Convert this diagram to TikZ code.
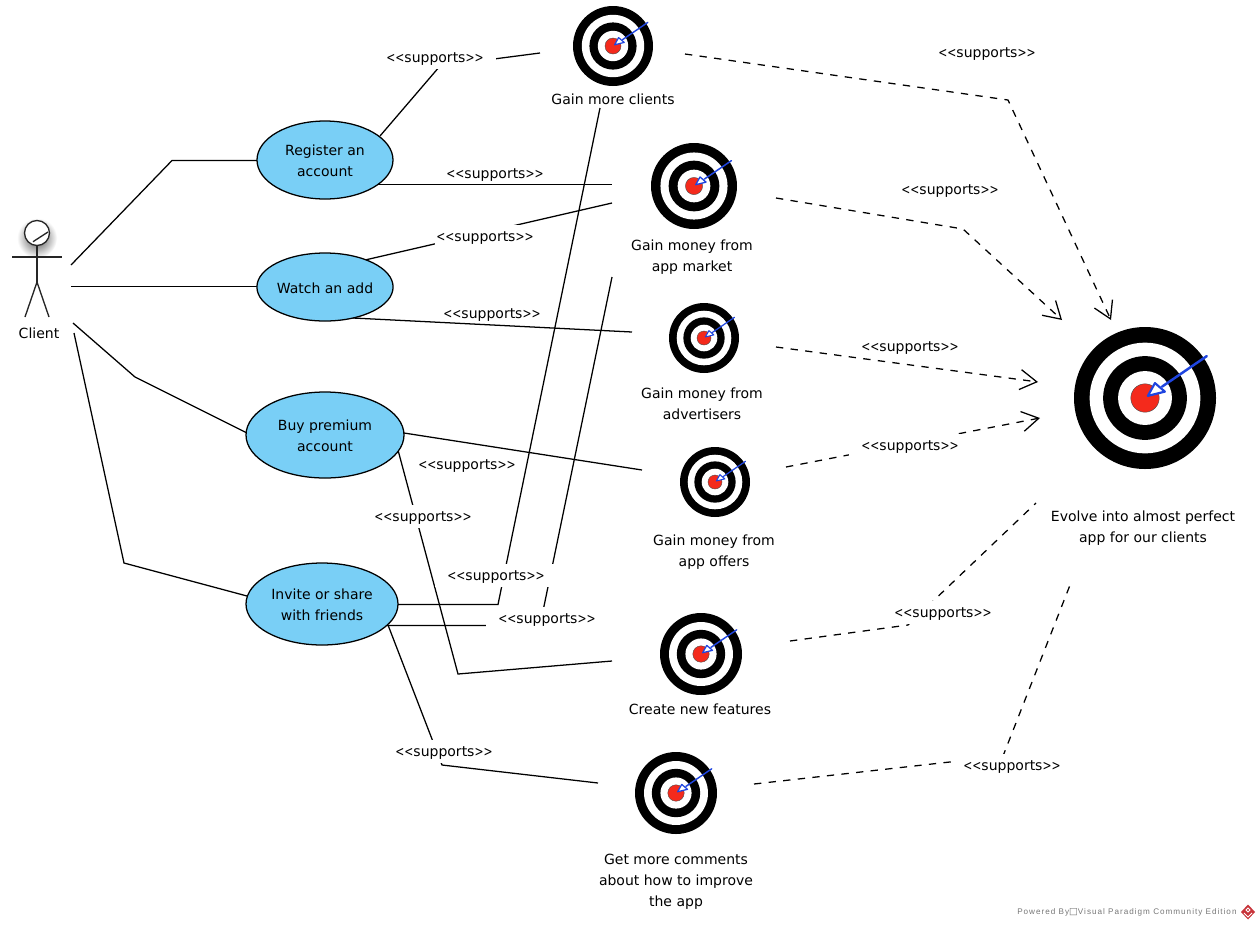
\documentclass[tikz,border=0pt]{standalone}
\usepackage{graphicx}
\usepackage{fontspec}
\setmainfont{DejaVu Sans}
\newfontfamily\footfont[LetterSpace=12.3]{Liberation Sans}
\newfontfamily\symfont{DejaVu Sans}
\usetikzlibrary{arrows.meta,shapes.geometric,calc}
\definecolor{ucblue}{HTML}{79CFF6}
\definecolor{tred}{HTML}{F42A1C}
\definecolor{tblue}{HTML}{1F45E0}
\definecolor{footgray}{HTML}{777777}
\definecolor{logored}{HTML}{C8343A}
\newcommand{\pxu}{0.75pt}
\newcommand{\stereo}{\raisebox{-1.5pt}[8pt][2.2pt]{\scalebox{.77}[1]{<{}<}supports\scalebox{.77}[1]{>{}>}}}
\newcommand{\dn}[1]{\raisebox{-.75pt}[8pt][0pt]{#1}}
\tikzset{
  x=0.75pt,y=-0.75pt,
  every node/.style={font=\fontsize{10.5}{15.75}\selectfont,align=center,inner sep=0pt},
  assoc/.style={draw=black,line width=.95pt},
  depline/.style={draw=black,line width=.95pt,dash pattern=on 5.5pt off 5.5pt},
  dep/.style={depline,-{Straight Barb[length=12.5pt,width=15pt,line width=.95pt]}},
  usecase/.style={ellipse,draw=black,line width=.95pt,fill=ucblue},
  masked/.style={fill=white,minimum width=122*\pxu,minimum height=23*\pxu},
  stereotype/.style={},
  plaintext/.style={yshift=-.75pt},
  actorline/.style={draw=black!85,line width=1pt},
}
\newcommand{\tgt}[4]{%
  \node[circle,minimum size=2*#4*\pxu] (#1) at (#2,#3) {};
  \begin{scope}[shift={(#2,#3)},x=#4*0.75pt,y=-#4*0.75pt]
    \fill[black] (0,0) circle (1);
    \fill[white] (0,0) circle (.78);
    \fill[black] (0,0) circle (.59);
    \fill[white] (0,0) circle (.38);
    \filldraw[fill=tred,draw=black!70,line width=.3pt] (0,0) circle (.2);
    \draw[tblue,line width=#4*.035*\pxu,line cap=round] (.87,-.59) -- (.24,-.16);
    \filldraw[fill=white,draw=tblue,line width=#4*.03*\pxu,line join=round] (.04,-.03) -- (.14,-.21) -- (.28,-.09) -- cycle;
  \end{scope}}
\begin{document}
\begin{tikzpicture}
\useasboundingbox[fill=white] (0,0) rectangle (1260,929);

% connector end coordinates
\coordinate (aA) at (71,265);   \coordinate (aB) at (172,160.5);  \coordinate (aC) at (257,160.5);
\coordinate (bA) at (71,286.5);   \coordinate (bC) at (258,286.5);
\coordinate (cA) at (73,323);   \coordinate (cB) at (135,377);  \coordinate (cC) at (247,433);
\coordinate (dA) at (74,333);   \coordinate (dB) at (124,563);  \coordinate (dC) at (247,596);
\coordinate (e1) at (380,136);  \coordinate (e2) at (440,66);   \coordinate (e3) at (540,53);
\coordinate (f1) at (378,184.5);  \coordinate (f2) at (612,184.5);
\coordinate (g1) at (365,260);  \coordinate (g2) at (612,203);
\coordinate (h1) at (353,318);  \coordinate (h2) at (632,332);
\coordinate (i1) at (404,433);  \coordinate (i2) at (642,470);
\coordinate (j1) at (398,450);  \coordinate (j2) at (458,674);  \coordinate (j3) at (612,661);
\coordinate (k1) at (397,604.5);  \coordinate (k2) at (498,604.5);  \coordinate (k3) at (600,108);
\coordinate (l1) at (387,625.5);  \coordinate (l2) at (540,625.5);  \coordinate (l3) at (612,277);
\coordinate (m1) at (388,625);  \coordinate (m2) at (442,765);  \coordinate (m3) at (598,783);
\coordinate (n1) at (685,54);   \coordinate (n2) at (1008,100); \coordinate (n3) at (1111,320);
\coordinate (o1) at (776,198);  \coordinate (o2) at (963,229);  \coordinate (o3) at (1062,320);
\coordinate (p1) at (776,347);  \coordinate (p3) at (1038,382);
\coordinate (q1) at (786,467);  \coordinate (q3) at (1040,418);
\coordinate (r1) at (790,641);  \coordinate (r2) at (908,625);  \coordinate (r3) at (1036,503);
\coordinate (s1) at (754,784);  \coordinate (s2) at (1003,756); \coordinate (s3) at (1072,580);

% connectors
\draw[assoc] (aA) -- (aB) -- (aC);
\draw[assoc] (bA) -- (bC);
\draw[assoc] (cA) -- (cB) -- (cC);
\draw[assoc] (dA) -- (dB) -- (dC);
\draw[assoc] (e1) -- (e2) -- (e3);
\draw[assoc] (f1) -- (f2);
\draw[assoc] (g1) -- (g2);
\draw[assoc] (i1) -- (i2);
\draw[assoc] (j1) -- (j2) -- (j3);
\draw[assoc] (k1) -- (k2) -- (k3);
\draw[assoc] (l1) -- (l2) -- (l3);
\draw[assoc] (m1) -- (m2) -- (m3);
\draw[dep] (n1) -- (n2) -- (n3);
\draw[dep] (o1) -- (o2) -- (o3);
\draw[dep] (p1) -- (p3);
\draw[dep] (q1) -- (q3);
\draw[depline] (r1) -- (r2) -- (r3);
\draw[depline] (s1) -- (s2) -- (s3);

% stereotype labels (those masking a line have a white ground)
\node[masked] (t1) at (435,57) {\stereo};
\node[stereotype] (t2) at (495,173) {\stereo};
\node[masked,minimum width=100*\pxu] (t3) at (485,236) {\stereo};
\node[stereotype] (t4) at (492,313) {\stereo};
\node[stereotype] (t5) at (467,464) {\stereo};
\node[masked] (t6) at (423,516) {\stereo};
\node[masked] (t7) at (496,575) {\stereo};
\node[masked] (t8) at (547,618) {\stereo};
\node[masked] (t9) at (444,751) {\stereo};
\node[stereotype] (t10) at (987,52) {\stereo};
\node[stereotype] (t11) at (950,189) {\stereo};
\node[stereotype] (t12) at (910,346) {\stereo};
\node[masked] (t13) at (910,445) {\stereo};
\node[masked] (t14) at (943,612) {\stereo};
\node[masked] (t15) at (1012,765) {\stereo};

\draw[assoc] (h1) -- (h2);

% use cases
\node[usecase,minimum width=136*\pxu,minimum height=78*\pxu] (reg) at (325,160) {\dn{Register an}\\\dn{account}};
\node[usecase,minimum width=134*\pxu,minimum height=68*\pxu] (watch) at (325,287) {\dn{Watch an add}};
\node[usecase,minimum width=158*\pxu,minimum height=86*\pxu] (buy) at (325,435) {\dn{Buy premium}\\\dn{account}};
\node[usecase,minimum width=152*\pxu,minimum height=82*\pxu] (invite) at (322,604) {\dn{Invite or share}\\\dn{with friends}};

% goals
\tgt{clients}{613}{46}{40}
\tgt{market}{694}{186}{43}
\tgt{advert}{704}{338}{35}
\tgt{offers}{715}{482}{35}
\tgt{create}{701}{654}{41}
\tgt{comments}{676}{793}{41}
\tgt{evolve}{1145}{398}{71}

\node[plaintext] (clientsT) at (613,98.5) {Gain more clients};
\node[plaintext] (marketT) at (692,256) {Gain money from\\app market};
\node[plaintext] (advertT) at (702,403) {Gain money from\\advertisers};
\node[plaintext] (offersT) at (714,551.5) {Gain money from\\app offers};
\node[plaintext] (createT) at (700,708.5) {Create new features};
\node[plaintext] (commentsT) at (676,881) {Get more comments\\about how to improve\\the app};
\node[plaintext] (evolveT) at (1143,527.5) {Evolve into almost perfect\\app for our clients};

% actor
\shade[inner color=black!70,outer color=white] (37,238) circle (20);
\filldraw[fill=white,draw=black!85,line width=1pt] (37,233) circle (12.5);
\draw[actorline] (33,241.7) -- (48,232);
\draw[actorline] (12,257) -- (62,257);
\draw[actorline] (37,245.5) -- (37,282);
\draw[actorline] (25,317) -- (37,282) -- (49,317);
\node (actorT) at (39,333.5) {Client};

% footer
\node[font=\fontsize{6.1}{7}\footfont,text=footgray,anchor=west] (foot) at (1017,912.5) {Powered By{\symfont\fontsize{7}{7}\selectfont □}Visual Paradigm Community Edition};
\begin{scope}[shift={(1248,912)}]
  \fill[logored] (0,-7.5) -- (7,0) -- (0,7.5) -- (-7,0) -- cycle;
  \draw[white,line width=.6pt] (-4,1) -- (0,5) -- (4,1);
  \draw[white,line width=.6pt] (-2,-2) -- (0,-4) -- (2,-2) -- (0,0) -- cycle;
\end{scope}
\end{tikzpicture}
\end{document}
